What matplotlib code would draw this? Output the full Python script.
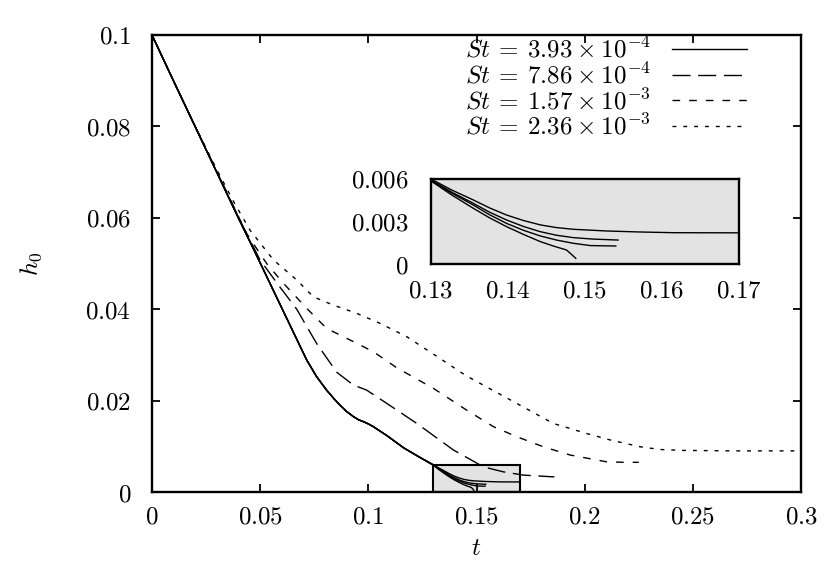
import numpy as np
import matplotlib
matplotlib.use("Agg")
import matplotlib.pyplot as plt
from matplotlib.patches import Rectangle
from matplotlib.ticker import FuncFormatter, FixedLocator

plt.rcParams['mathtext.fontset'] = 'cm'
plt.rcParams['font.family'] = ['DejaVu Serif']

# ---------------- data ----------------
# solid curves (St = 3.93e-4): shared path up to t = 0.13, then four tails
solid_base_t = [0.0, 0.01, 0.02, 0.03, 0.04, 0.047, 0.056, 0.064, 0.0715, 0.076, 0.0807,
                0.0845, 0.0869, 0.09, 0.0931, 0.0955, 0.0977, 0.1, 0.1023, 0.109, 0.1162, 0.123]
solid_base_h = [0.1, 0.0899, 0.0799, 0.0699, 0.0599, 0.0531, 0.0442, 0.0363, 0.0289, 0.0253, 0.0223,
                0.0202, 0.0190, 0.0176, 0.0165, 0.0158, 0.0154, 0.0149, 0.0143, 0.0122, 0.0097, 0.0078]

tail_a_t = [0.13, 0.1327, 0.1355, 0.1376, 0.1398, 0.142, 0.1442, 0.1463, 0.1485, 0.1528, 0.1571, 0.1615, 0.17]
tail_a_h = [0.0060, 0.00522, 0.00452, 0.00396, 0.00346, 0.00307, 0.00276, 0.00257, 0.00245, 0.00233, 0.00226, 0.00221, 0.00220]
tail_b_t = [0.13, 0.1327, 0.1355, 0.1376, 0.1398, 0.142, 0.1442, 0.1463, 0.1485, 0.151, 0.1543]
tail_b_h = [0.00593, 0.00507, 0.00428, 0.00366, 0.00311, 0.00265, 0.00228, 0.00203, 0.00186, 0.00176, 0.00169]
tail_c_t = [0.13, 0.1327, 0.1355, 0.1376, 0.1398, 0.142, 0.1442, 0.1463, 0.1485, 0.1507, 0.154]
tail_c_h = [0.00588, 0.00500, 0.00416, 0.00348, 0.00287, 0.00238, 0.00198, 0.00169, 0.00146, 0.00130, 0.00127]
tail_d_t = [0.13, 0.1327, 0.1355, 0.1376, 0.1398, 0.142, 0.1442, 0.146, 0.1476, 0.1482, 0.1488]
tail_d_h = [0.00586, 0.00487, 0.00393, 0.00326, 0.00264, 0.00209, 0.00158, 0.00125, 0.00099, 0.00070, 0.0004]

# St = 7.86e-4 (long dash)
ld_t = [0.0, 0.01, 0.02, 0.03, 0.042, 0.0499, 0.0592, 0.0669, 0.0761, 0.0854, 0.0931,
        0.0992, 0.1085, 0.1224, 0.1393, 0.1532, 0.1625, 0.1717, 0.186]
ld_h = [0.1, 0.0899, 0.0799, 0.0700, 0.0582, 0.0508, 0.0448, 0.0400, 0.0325, 0.0262, 0.0234,
        0.0223, 0.0194, 0.0150, 0.0092, 0.0055, 0.0044, 0.0037, 0.0033]

# St = 1.57e-3 (short dash)
md_t = [0.0, 0.01, 0.02, 0.03, 0.0438, 0.053, 0.0607, 0.0715, 0.0807, 0.0931, 0.1023,
        0.1131, 0.13, 0.1455, 0.1578, 0.1686, 0.1809, 0.1932, 0.2102, 0.218, 0.225]
md_h = [0.1, 0.0899, 0.0799, 0.0701, 0.0565, 0.0500, 0.0457, 0.0402, 0.0358, 0.0329, 0.0307,
        0.0272, 0.0227, 0.0179, 0.0143, 0.0121, 0.0099, 0.0081, 0.0066, 0.0065, 0.0065]

# St = 2.36e-3 (dotted)
dt_t = [0.0, 0.01, 0.02, 0.03, 0.038, 0.0453, 0.0561, 0.0669, 0.0746, 0.0838, 0.0946,
        0.1054, 0.1177, 0.13, 0.145, 0.167, 0.1855, 0.2009, 0.2117, 0.2256, 0.2348,
        0.2456, 0.2687, 0.3]
dt_h = [0.1, 0.0899, 0.0800, 0.0705, 0.0633, 0.0573, 0.0508, 0.0464, 0.0427, 0.0409, 0.0391,
        0.0369, 0.0340, 0.0302, 0.0255, 0.0198, 0.0150, 0.0128, 0.0114, 0.0099, 0.0093,
        0.0091, 0.0090, 0.0090]

labels = [r'$St\:=\:3.93\:\times\:10^{-4}$', r'$St\:=\:7.86\:\times\:10^{-4}$',
          r'$St\:=\:1.57\:\times\:10^{-3}$', r'$St\:=\:2.36\:\times\:10^{-3}$']

x_ticks = [0, 0.05, 0.1, 0.15, 0.2, 0.25, 0.3]
y_ticks = [0, 0.02, 0.04, 0.06, 0.08, 0.1]
inset_x_ticks = [0.13, 0.14, 0.15, 0.16, 0.17]
inset_y_ticks = [0, 0.003, 0.006]
zoom_t = [0.13, 0.17]
zoom_h = [0.0, 0.006]

# ---------------- figure ----------------
W, H = 830, 581
fig = plt.figure(figsize=(W / 100, H / 100), dpi=100)
L, R, T, B = 152, 801, 35, 492
ax = fig.add_axes([L / W, 1 - B / H, (R - L) / W, (B - T) / H])

gray = '#e3e3e3'
lw = 1.0
fs = 18
solid_tails = [(tail_a_t, tail_a_h), (tail_b_t, tail_b_h), (tail_c_t, tail_c_h), (tail_d_t, tail_d_h)]

ax.add_patch(Rectangle((zoom_t[0], zoom_h[0]), zoom_t[1] - zoom_t[0], zoom_h[1] - zoom_h[0],
                       facecolor=gray, edgecolor='black', lw=1.5, zorder=1))

for i, (tt, hh) in enumerate(solid_tails):
    ax.plot(solid_base_t + tt, solid_base_h + hh, color='black', lw=lw, zorder=3,
            label=labels[0] if i == 0 else None)
ax.plot(ld_t, ld_h, color='black', lw=lw, dashes=(13, 5.5), label=labels[1], zorder=3)
ax.plot(md_t, md_h, color='black', lw=lw, dashes=(5.5, 6.5), label=labels[2], zorder=3)
ax.plot(dt_t, dt_h, color='black', lw=lw, dashes=(2.8, 5), label=labels[3], zorder=3)

ax.set_xlim(x_ticks[0], x_ticks[-1])
ax.set_ylim(y_ticks[0], y_ticks[-1])
ax.xaxis.set_major_locator(FixedLocator(x_ticks))
ax.yaxis.set_major_locator(FixedLocator(y_ticks))
fmt = FuncFormatter(lambda v, p: r'$%s$' % ('%g' % v))
ax.xaxis.set_major_formatter(fmt)
ax.yaxis.set_major_formatter(fmt)
ax.tick_params(direction='in', length=6, width=1.3, top=True, right=True,
               labelsize=fs, pad=15)
ax.tick_params(axis='x', pad=10)
for s in ax.spines.values():
    s.set_linewidth(1.7)

ax.set_xlabel(r'$t$', fontsize=fs, labelpad=6)
ax.set_ylabel(r'$h_0$', fontsize=fs, labelpad=30)

leg = ax.legend(loc='upper right', bbox_to_anchor=((747 - L) / (R - L), (B - 37) / (B - T)),
                frameon=False, markerfirst=False, fontsize=fs, handlelength=3.0,
                handletextpad=0.85, labelspacing=0.0, borderpad=0, borderaxespad=0)

# ---------------- inset ----------------
iL, iR, iT, iB = 431, 739, 179, 264
axi = fig.add_axes([iL / W, 1 - iB / H, (iR - iL) / W, (iB - iT) / H])
axi.set_facecolor(gray)
for tt, hh in solid_tails:
    axi.plot(solid_base_t + tt, solid_base_h + hh, color='black', lw=lw)
axi.set_xlim(zoom_t)
axi.set_ylim(zoom_h)
axi.xaxis.set_major_locator(FixedLocator(inset_x_ticks))
axi.yaxis.set_major_locator(FixedLocator(inset_y_ticks))
axi.xaxis.set_major_formatter(fmt)
axi.yaxis.set_major_formatter(fmt)
axi.tick_params(length=0, labelsize=fs, pad=16)
axi.tick_params(axis='x', pad=11)
for s in axi.spines.values():
    s.set_linewidth(1.7)

fig.savefig('out.png', dpi=100)
